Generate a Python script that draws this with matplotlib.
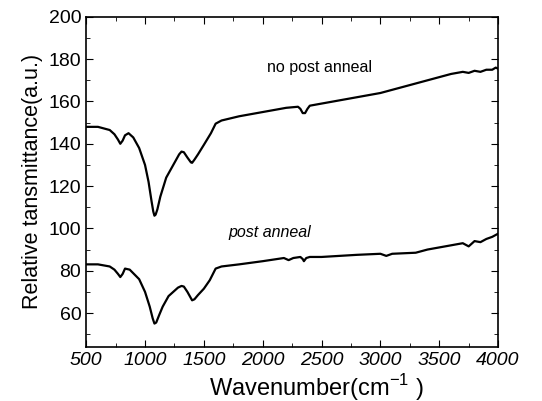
import numpy as np
import matplotlib
matplotlib.use('Agg')
import matplotlib.pyplot as plt
from matplotlib.ticker import MultipleLocator

plt.rcParams['font.family'] = ['Liberation Sans', 'DejaVu Sans']

##### DATA #####
# no post anneal
wn_top = [500, 600, 700, 740, 770, 790, 810, 830, 860, 900, 950, 1000, 1030,
          1055, 1070, 1080, 1090, 1105, 1130, 1180, 1250, 1290, 1310, 1330,
          1360, 1390, 1400, 1420, 1450, 1500, 1560, 1600, 1650, 1800, 2000,
          2200, 2300, 2320, 2340, 2360, 2380, 2400, 2500, 2700, 3000, 3200,
          3400, 3500, 3600, 3700, 3750, 3800, 3850, 3900, 3950, 3980, 4000]
tr_top = [148, 148, 146.5, 144.5, 142, 140, 141.5, 144, 145, 143, 138, 130,
          122, 113, 108, 106, 106.5, 109, 115, 124, 131, 135, 136.3, 136,
          133.5, 131.2, 131, 132.5, 135, 139.5, 145, 149.5, 151, 153, 155,
          157, 157.5, 156.5, 154.5, 154.5, 156.5, 158, 159, 161, 164, 167,
          170, 171.5, 173, 174, 173.5, 174.5, 174, 175, 175, 176, 175.5]

# post anneal
wn_bot = [500, 600, 700, 740, 770, 790, 810, 830, 870, 950, 1000, 1040,
          1065, 1080, 1095, 1120, 1150, 1200, 1280, 1310, 1330, 1360, 1390,
          1400, 1420, 1450, 1500, 1550, 1600, 1650, 1800, 2000, 2180, 2220,
          2260, 2320, 2340, 2350, 2370, 2400, 2500, 2800, 3000, 3050, 3100,
          3300, 3400, 3600, 3700, 3750, 3800, 3850, 3900, 3950, 4000]
tr_bot = [83, 83, 82, 80.5, 78.5, 77, 78.5, 81, 80.5, 76, 70, 63,
          57.5, 55, 55.5, 59, 63, 68, 72, 72.8, 72.5, 70, 67,
          66, 66.5, 68.5, 71.5, 75.5, 81, 82, 83, 84.5, 86, 85,
          86, 86.5, 85.5, 84.5, 86, 86.5, 86.5, 87.5, 88, 87,
          88, 88.5, 90, 92, 93, 91.5, 94, 93.5, 95, 96, 97.5]

xticks = [500, 1000, 1500, 2000, 2500, 3000, 3500, 4000]
yticks = [60, 80, 100, 120, 140, 160, 180, 200]
########################

fig = plt.figure(figsize=(5.42, 4.01), dpi=100)
ax = fig.add_axes([0.159, 0.135, 0.760, 0.823])

ax.plot(wn_top, tr_top, color='black', lw=1.6)
ax.plot(wn_bot, tr_bot, color='black', lw=1.6)

ax.text(2480, 176, 'no post anneal', ha='center', va='center', fontsize=11.5)
ax.text(2060, 98, 'post anneal', ha='center', va='center', fontsize=11.5, style='italic')

ax.set_xlim(500, 4000)
ax.set_ylim(44, 200)
ax.set_xticks(xticks)
ax.set_yticks(yticks)
ax.xaxis.set_minor_locator(MultipleLocator(250))
ax.yaxis.set_minor_locator(MultipleLocator(10))
ax.tick_params(which='both', direction='in', top=True, right=True, labelsize=14)
ax.tick_params(which='major', length=5)
ax.tick_params(which='minor', length=3)
for lab in ax.get_xticklabels():
    lab.set_style('italic')

ax.set_xlabel('Wavenumber(cm$^{\\mathregular{-1}}$ )', fontsize=17, labelpad=1)
ax.xaxis.set_label_coords(0.56, -0.075)
ax.set_ylabel('Relative tansmittance(a.u.)', fontsize=15.5, labelpad=4)

for s in ax.spines.values():
    s.set_linewidth(1.2)

plt.savefig('out.png', dpi=100)
